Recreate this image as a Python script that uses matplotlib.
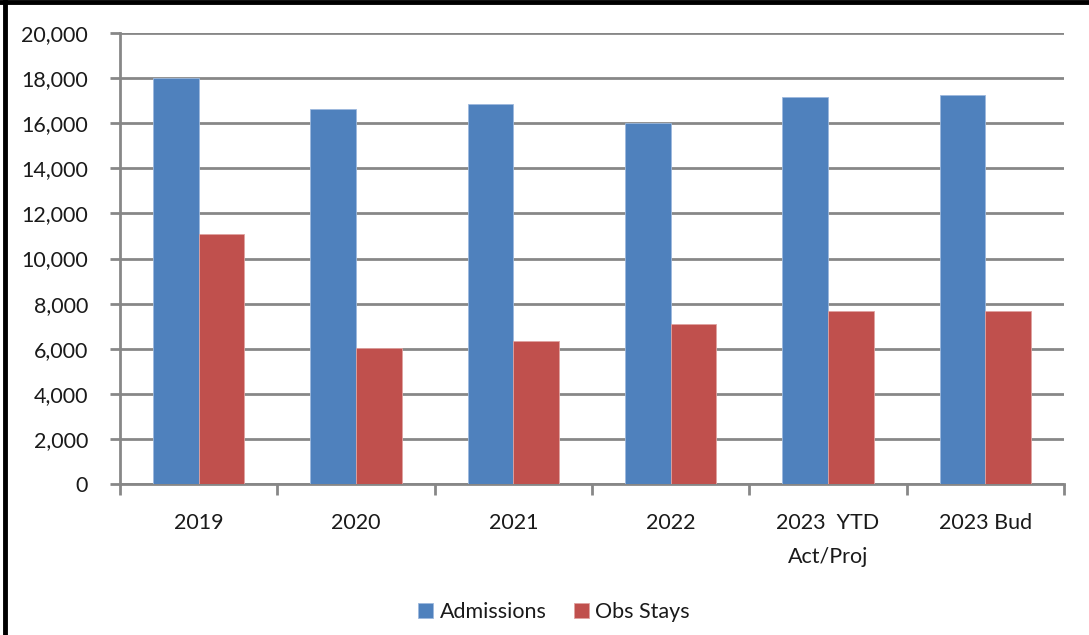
import matplotlib
matplotlib.use("Agg")
import matplotlib.pyplot as plt
import numpy as np
from matplotlib.lines import Line2D

categories = ["2019", "2020", "2021", "2022", "2023  YTD\nAct/Proj", "2023 Bud"]
admissions = [18000, 16620, 16850, 16000, 17180, 17270]
obs_stays = [11090, 6050, 6350, 7100, 7680, 7680]
yticks = [0, 2000, 4000, 6000, 8000, 10000, 12000, 14000, 16000, 18000, 20000]

plt.rcParams['font.family'] = ['Lato', 'DejaVu Sans']
fs = 15.5
txt_c = "#1a1a1a"
grid_c = "#878787"

fig = plt.figure(figsize=(10.89, 6.35), dpi=100)
ax = fig.add_axes([120/1089, 1-484/635, (1064-120)/1089, (484-33)/635])

x = np.arange(len(categories))
w = 0.29
ax.bar(x - w/2, admissions, w, color="#4F81BD", edgecolor="#9DB9DD", linewidth=0.6, label="Admissions", zorder=3)
ax.bar(x + w/2, obs_stays, w, color="#C0504D", edgecolor="#E0A3A1", linewidth=0.6, label="Obs Stays", zorder=3)

ax.set_xlim(-0.5, len(categories) - 0.5)
ax.set_ylim(0, 20000)
ax.set_yticks(yticks)
ax.set_yticklabels([f"{v:,}" for v in yticks], fontsize=fs, color=txt_c)
ax.yaxis.grid(True, color=grid_c, linewidth=2, zorder=0)
ax.set_axisbelow(True)

ax.set_xticks(np.arange(-0.5, len(categories)), minor=False)
ax.set_xticklabels([])
ax.set_xticks(x, minor=True)
ax.set_xticklabels(categories, minor=True, fontsize=fs, color=txt_c, linespacing=1.85, va="top")
ax.tick_params(axis="x", which="minor", length=0, pad=21)
ax.tick_params(axis="x", which="major", length=8, width=2, color=grid_c, direction="out")
ax.tick_params(axis="y", length=7, width=2, color=grid_c, direction="out", pad=16)

for s in ["top", "right"]:
    ax.spines[s].set_visible(False)
for s in ["left", "bottom"]:
    ax.spines[s].set_color(grid_c)
    ax.spines[s].set_linewidth(2)

leg = fig.legend(loc="center", bbox_to_anchor=(554/1089, 1-612/635), ncol=2, frameon=False,
                 fontsize=fs, handlelength=0.7, handleheight=0.7, handletextpad=0.3,
                 columnspacing=1.25, labelcolor=txt_c)

# black frame lines (top and left)
fig.add_artist(Line2D([0, 1], [1-2/635, 1-2/635], transform=fig.transFigure, color="black", linewidth=3.5))
fig.add_artist(Line2D([5/1089, 5/1089], [0, 1], transform=fig.transFigure, color="black", linewidth=3.5))

fig.savefig("out.png", dpi=100)
